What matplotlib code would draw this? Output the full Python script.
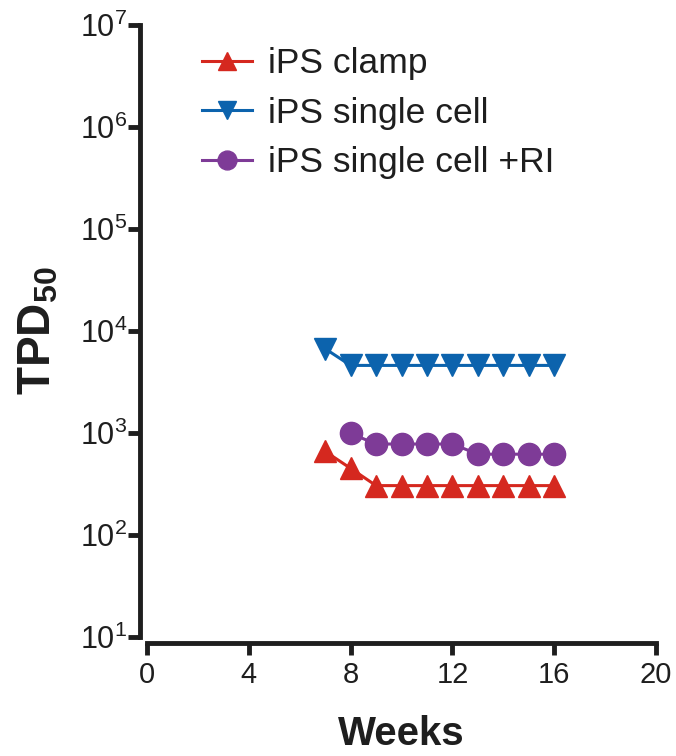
import matplotlib
matplotlib.use("Agg")
import matplotlib.pyplot as plt
from matplotlib.ticker import LogLocator, NullLocator

# data (weeks vs TPD50)
clamp_weeks = [7, 8, 9, 10, 11, 12, 13, 14, 15, 16]
clamp_tpd = [660, 450, 305, 305, 305, 305, 305, 305, 305, 305]

single_weeks = [7, 8, 9, 10, 11, 12, 13, 14, 15, 16]
single_tpd = [6700, 4600, 4600, 4600, 4600, 4600, 4600, 4600, 4600, 4600]

ri_weeks = [8, 9, 10, 11, 12, 13, 14, 15, 16]
ri_tpd = [990, 780, 780, 780, 780, 620, 620, 620, 620]

x_ticks = [0, 4, 8, 12, 16, 20]

RED = '#d5281f'
BLUE = '#0c63ad'
PURPLE = '#7e3b97'
INK = '#1e1e1e'

plt.rcParams['font.family'] = ['Liberation Sans', 'DejaVu Sans']
plt.rcParams['mathtext.fontset'] = 'custom'
plt.rcParams['mathtext.rm'] = 'Liberation Sans'
plt.rcParams['mathtext.bf'] = 'Liberation Sans:bold'
plt.rcParams['mathtext.default'] = 'regular'

fig = plt.figure(figsize=(6.76, 7.56), dpi=100)
ax = fig.add_axes([0.2175, 0.1574, 0.753, 0.8095])

ax.plot(clamp_weeks, clamp_tpd, color=RED, marker='^', ms=16, lw=2.2,
        label='iPS clamp', clip_on=False)
ax.plot(single_weeks, single_tpd, color=BLUE, marker='v', ms=16, lw=2.2,
        label='iPS single cell', clip_on=False)
ax.plot(ri_weeks, ri_tpd, color=PURPLE, marker='o', ms=16, lw=2.2,
        label='iPS single cell +RI', clip_on=False)

ax.set_yscale('log')
ax.set_ylim(10, 1e7)
ax.set_xlim(0, 20)
ax.set_xticks(x_ticks)
ax.yaxis.set_major_locator(LogLocator(base=10, numticks=10))
ax.yaxis.set_minor_locator(NullLocator())

for side in ['top', 'right']:
    ax.spines[side].set_visible(False)
ax.spines['left'].set_position(('outward', 5))
ax.spines['bottom'].set_position(('outward', 4.5))
for side in ['left', 'bottom']:
    ax.spines[side].set_linewidth(3.5)
    ax.spines[side].set_color(INK)

ax.tick_params(axis='both', width=3.5, length=8.5, color=INK,
               labelcolor=INK)
ax.tick_params(axis='y', pad=0.5, labelsize=22)
ax.tick_params(axis='x', pad=4, labelsize=21)

fig.text(38 / 676, 1 - 331 / 756, r'TPD$_\mathbf{50}$', rotation=90,
         fontsize=33, fontweight='bold', ha='center', va='center',
         color=INK)
fig.text(401 / 676, 1 - 745 / 756, 'Weeks', fontsize=29, fontweight='bold',
         ha='center', va='baseline', color=INK)

ax.legend(loc='upper left', bbox_to_anchor=(202 / 676, 1 - 47 / 756),
          bbox_transform=fig.transFigure, frameon=False, fontsize=25.5,
          handlelength=1.4, handletextpad=0.45, labelspacing=0.47,
          borderpad=0, borderaxespad=0, markerscale=0.85,
          labelcolor=INK)

fig.savefig('out.png', dpi=100)
